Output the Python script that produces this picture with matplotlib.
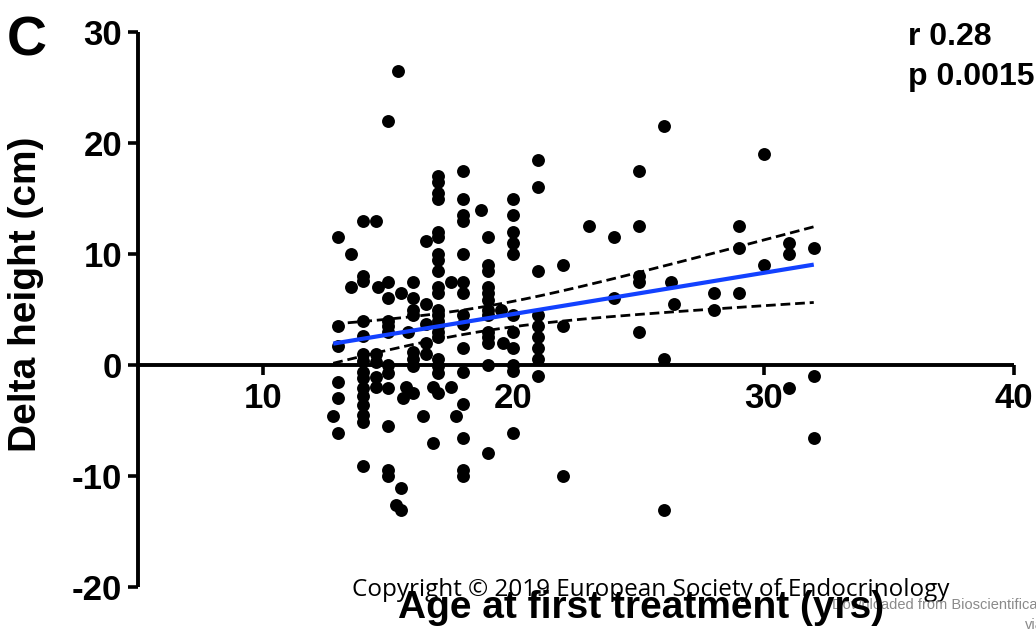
import numpy as np
import matplotlib
matplotlib.use("Agg")
import matplotlib.pyplot as plt

plt.rcParams["lines.scale_dashes"] = False

# Age at first treatment (years) and change in height (cm), one entry per patient
age = [
    13, 13, 13, 13, 13, 13, 12.8,
    13.5, 13.5,
    14, 14, 14, 14, 14, 14, 14, 14, 14, 14, 14, 14, 14, 14, 14,
    14.5, 14.5, 14.5, 14.5, 14.5,
    14.6,
    15, 15, 15, 15, 15, 15, 15, 15, 15, 15, 15, 15,
    15.3, 15.4, 15.5, 15.5, 15.5, 15.6, 15.7, 15.8,
    16, 16, 16, 16, 16, 16, 16, 16,
    16.4, 16.5, 16.5, 16.5, 16.5, 16.5, 16.8, 16.8,
    17, 17, 17, 17, 17, 17, 17, 17, 17, 17, 17, 17, 17, 17, 17, 17, 17, 17, 17, 17, 17,
    17.5, 17.5, 17.7,
    18, 18, 18, 18, 18, 18, 18, 18, 18, 18, 18, 18, 18, 18, 18,
    18.7,
    19, 19, 19, 19, 19, 19, 19, 19, 19, 19, 19, 19, 19,
    19.5, 19.6,
    20, 20, 20, 20, 20, 20, 20, 20, 20, 20, 20,
    21, 21, 21, 21, 21, 21, 21, 21, 21,
    22, 22, 22,
    23,
    24, 24,
    25, 25, 25, 25, 25,
    26, 26, 26, 26.3, 26.4,
    28, 28,
    29, 29, 29,
    30, 30,
    31, 31, 31,
    32, 32, 32,
]
delta_height = [
    11.5, 3.5, 1.7, -1.5, -3.0, -6.1, -4.6,
    10.0, 7.0,
    13.0, 8.0, 7.6, 4.0, 2.6, 1.0, 0.4, -0.6, -1.2, -2.1, -2.8, -3.6, -4.5, -5.1, -9.1,
    13.0, 1.0, 0.3, -1.1, -2.0,
    7.0,
    22.0, 7.5, 6.0, 4.0, 3.5, 3.0, 0.0, -0.7, -2.1, -5.5, -9.5, -10.0,
    -12.6, 26.5, 6.5, -11.1, -13.1, -3.0, -2.0, 3.0,
    7.5, 6.0, 5.0, 4.5, 1.2, 0.5, -0.1, -2.5,
    -4.6, 11.2, 5.5, 3.7, 2.0, 1.0, -2.0, -7.0,
    17.0, 16.5, 15.5, 15.0, 12.0, 11.5, 10.0, 9.5, 8.5, 7.0, 6.5, 5.0, 4.5, 4.0, 3.5, 3.0, 2.5, 0.5, -0.1, -0.7, -2.5,
    7.5, -2.0, -4.6,
    17.5, 15.0, 13.5, 13.0, 10.0, 7.5, 6.5, 4.5, 3.7, 1.5, -0.6, -3.5, -6.6, -9.5, -10.0,
    14.0,
    11.5, 9.0, 8.5, 7.0, 6.5, 5.9, 5.0, 4.5, 3.0, 2.5, 2.0, 0.0, -7.9,
    5.0, 2.0,
    15.0, 13.5, 12.0, 11.0, 10.0, 4.5, 3.0, 1.5, 0.0, -0.5, -6.1,
    18.5, 16.0, 8.5, 4.5, 3.5, 2.5, 1.5, 0.5, -1.0,
    9.0, 3.5, -10.0,
    12.5,
    11.5, 6.0,
    17.5, 12.5, 8.0, 7.5, 3.0,
    21.5, 0.5, -13.1, 7.5, 5.5,
    6.5, 5.0,
    12.5, 10.5, 6.5,
    19.0, 9.0,
    11.0, 10.0, -2.1,
    10.5, -1.0, -6.6,
]

x_ticks = [10, 20, 30, 40]
y_ticks = [-20, -10, 0, 10, 20, 30]
stats_lines = ["r 0.28", "p 0.0015"]
panel_letter = "C"
x_title = "Age at first treatment (yrs)"
y_title = "Delta height (cm)"
copyright_note = "Copyright \u00a9 2019 European Society of Endocrinology"
download_note = "Downloaded from Bioscientifica.com"
via_note = "via"

W, H = 1036, 633
fig = plt.figure(figsize=(W / 100, H / 100), dpi=100)
ax = fig.add_axes([138 / W, 1 - 587 / H, 876 / W, 555 / H])

x = np.asarray(age, dtype=float)
y = np.asarray(delta_height, dtype=float)

# Least-squares line with its 95% confidence band
slope, intercept = np.polyfit(x, y, 1)
xs = np.linspace(x.min(), x.max(), 200)
fit = intercept + slope * xs
n = len(x)
resid = y - (intercept + slope * x)
s = np.sqrt(np.sum(resid ** 2) / (n - 2))
sxx = np.sum((x - x.mean()) ** 2)
t_crit = 1.974
half = t_crit * s * np.sqrt(1.0 / n + (xs - x.mean()) ** 2 / sxx)

ax.plot(x, y, "o", color="black", markersize=9.3, markeredgewidth=0, zorder=3)
ax.plot(xs, fit + half, color="black", lw=2.0, dashes=(7, 3.5), zorder=4)
ax.plot(xs, fit - half, color="black", lw=2.0, dashes=(7, 3.5), zorder=4)
ax.plot(xs, fit, color="#1241ff", lw=3.0, solid_capstyle="butt", zorder=5)

ax.set_xlim(5, 40)
ax.set_ylim(-20, 30)
for side in ("top", "right"):
    ax.spines[side].set_visible(False)
ax.spines["bottom"].set_position(("data", 0))
for side in ("left", "bottom"):
    ax.spines[side].set_linewidth(2.8)
    ax.spines[side].set_capstyle("butt")

ax.set_xticks(x_ticks)
ax.set_yticks(y_ticks)
ax.set_xticklabels([str(v) for v in x_ticks])
ax.set_yticklabels([str(v) for v in y_ticks])
ax.tick_params(axis="both", direction="out", length=7.2, width=2.6, color="black")
ax.tick_params(axis="x", pad=5)
ax.tick_params(axis="y", pad=4.3)
tick_font = dict(family="Liberation Sans", weight="bold", size=25)
for lab in ax.get_xticklabels() + ax.get_yticklabels():
    lab.set_fontproperties(matplotlib.font_manager.FontProperties(**tick_font))

bold = dict(family="Liberation Sans", weight="bold")
fig.text(7 / W, 1 - 55 / H, panel_letter, ha="left", va="baseline", size=40, **bold)
fig.text(908 / W, 1 - 45 / H, stats_lines[0], ha="left", va="baseline", size=23, **bold)
fig.text(908 / W, 1 - 85 / H, stats_lines[1], ha="left", va="baseline", size=23, **bold)
fig.text(26 / W, 1 - 294 / H, y_title, rotation=90, ha="center", va="center", size=28, **bold)

fig.text(352 / W, 1 - 596 / H, copyright_note, ha="left", va="baseline",
         size=17.5, family="Open Sans", color="black")
fig.text(832 / W, 1 - 609 / H, download_note, ha="left", va="baseline",
         size=10.5, family="Liberation Sans", color="#8a8a8a")
fig.text(1025 / W, 1 - 629 / H, via_note, ha="left", va="baseline",
         size=10.5, family="Liberation Sans", color="#8a8a8a")
fig.text(641 / W, 1 - 618 / H, x_title, ha="center", va="baseline", size=28, **bold)

fig.savefig("out.png", dpi=100)
